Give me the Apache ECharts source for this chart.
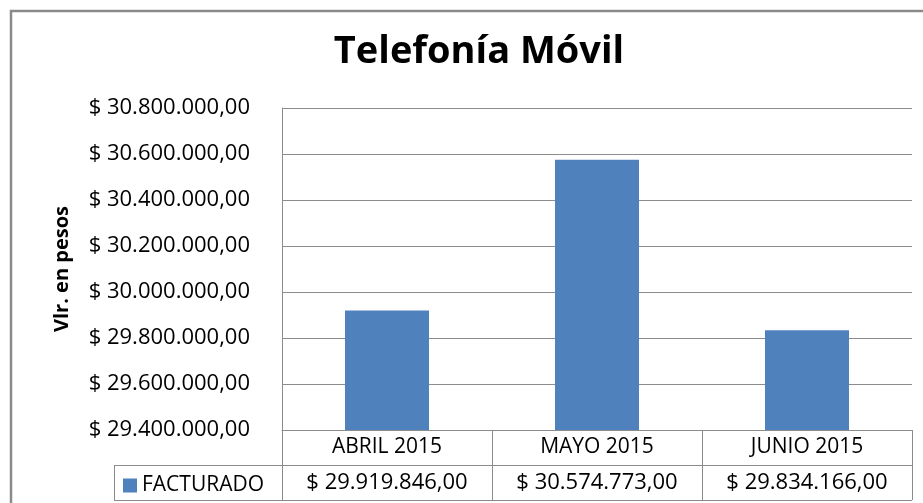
<!DOCTYPE html>
<html>
<head>
<meta charset="utf-8">
<script src="https://cdn.jsdelivr.net/npm/echarts@6/dist/echarts.min.js"></script>
<style>
  html, body { margin: 0; padding: 0; background: #fff; }
  #chart { width: 923px; height: 503px; }
</style>
</head>
<body>
<div id="chart"></div>
<script>
// chart data
var categories = ['ABRIL 2015', 'MAYO 2015', 'JUNIO 2015'];
var seriesName = 'FACTURADO';
var facturado = [29919846, 30574773, 29834166];
var yMin = 29400000;
var yMax = 30800000;
var yStep = 200000;

var FONT = '"Open Sans", sans-serif';
var GRAY = '#8c8c8c';

function pesos(v) {
  var parts = v.toFixed(2).split('.');
  var ent = parts[0].replace(/\B(?=(\d{3})+(?!\d))/g, '.');
  return '$ ' + ent + ',' + parts[1];
}

var chart = echarts.init(document.getElementById('chart'));

chart.setOption({
  animation: false,
  backgroundColor: '#fff',
  title: {
    text: 'Telefonía Móvil',
    left: 474,
    top: 28,
    textAlign: 'center',
    textStyle: { fontFamily: FONT, fontWeight: 'bold', fontSize: 38, color: '#000' }
  },
  legend: {
    data: [seriesName],
    left: 123,
    top: 475,
    icon: 'rect',
    itemWidth: 14,
    itemHeight: 14,
    itemGap: 0,
    padding: 0,
    textStyle: { fontFamily: FONT, fontSize: 21, color: '#000', padding: [0, 0, 0, 0] }
  },
  grid: { left: 282, top: 108, right: 11, bottom: 73, containLabel: false },
  xAxis: {
    type: 'category',
    data: categories,
    axisLine: { show: true, lineStyle: { color: GRAY, width: 1 } },
    axisTick: { show: true, interval: 0, length: 70, lineStyle: { color: GRAY } },
    axisLabel: {
      margin: 0,
      interval: 0,
      formatter: function (val, idx) {
        return '{c|' + val + '}\n{v|' + pesos(facturado[idx]) + '}';
      },
      rich: {
        c: { fontFamily: FONT, fontSize: 21, color: '#000', lineHeight: 35, height: 35 },
        v: { fontFamily: FONT, fontSize: 22, color: '#000', lineHeight: 35, height: 35 }
      }
    }
  },
  yAxis: {
    type: 'value',
    min: yMin,
    max: yMax,
    interval: yStep,
    name: 'Vlr. en pesos',
    nameLocation: 'middle',
    nameGap: 210,
    nameRotate: 90,
    nameTextStyle: { fontFamily: FONT, fontWeight: 'bold', fontSize: 20, color: '#000' },
    axisLine: { show: true, lineStyle: { color: GRAY, width: 1 } },
    axisTick: { show: false },
    splitLine: { lineStyle: { color: GRAY, width: 1 } },
    axisLabel: {
      margin: 32,
      fontFamily: FONT,
      fontSize: 22,
      color: '#000',
      formatter: function (v) { return pesos(v); }
    }
  },
  series: [{
    name: seriesName,
    type: 'bar',
    data: facturado,
    barWidth: '40%',
    itemStyle: { color: '#4f81bd' }
  }],
  graphic: [
    // outer chart border (clipped at right / bottom like the source)
    { type: 'rect', shape: { x: 11, y: 11, width: 960, height: 540 },
      style: { fill: null, stroke: '#8a8a8a', lineWidth: 2.5 }, silent: true },
    // data table lines
    { type: 'line', shape: { x1: 114, y1: 465.5, x2: 912, y2: 465.5 },
      style: { stroke: GRAY, lineWidth: 1 }, silent: true },
    { type: 'line', shape: { x1: 114, y1: 500.5, x2: 912, y2: 500.5 },
      style: { stroke: GRAY, lineWidth: 1 }, silent: true },
    { type: 'line', shape: { x1: 114.5, y1: 465, x2: 114.5, y2: 501 },
      style: { stroke: GRAY, lineWidth: 1 }, silent: true }
  ]
});
</script>
</body>
</html>
